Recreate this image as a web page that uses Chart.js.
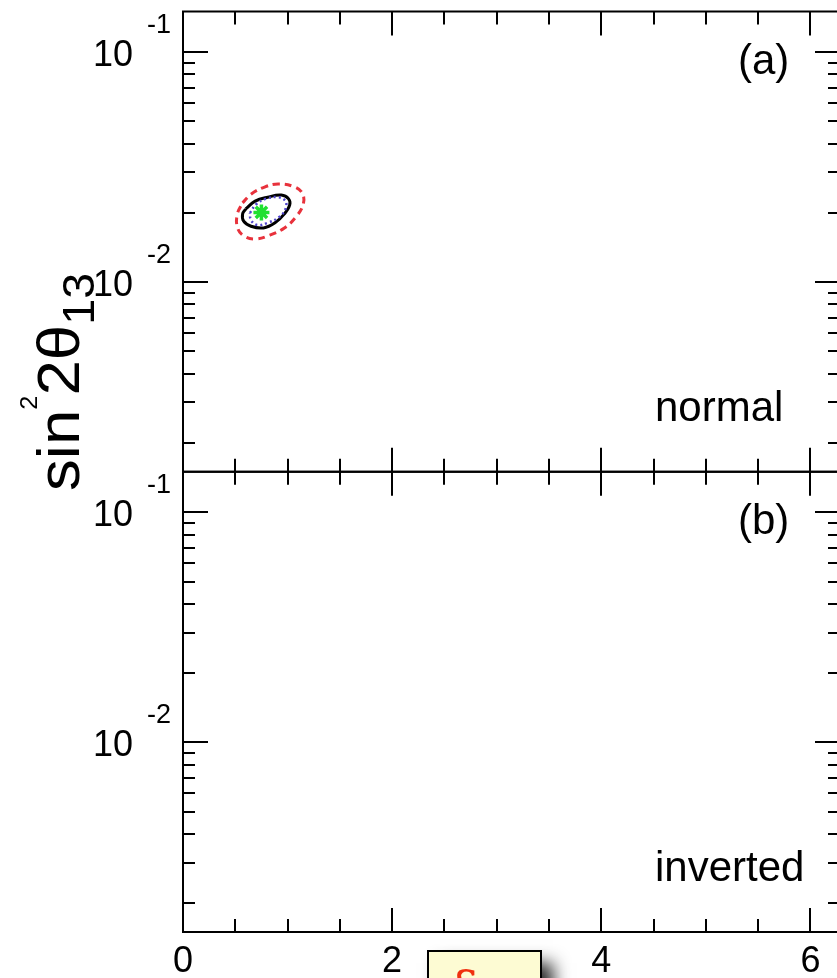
<!DOCTYPE html>
<html>
<head>
<meta charset="utf-8">
<script src="https://cdn.jsdelivr.net/npm/chart.js@4.4.0/dist/chart.umd.min.js"></script>
<style>
html, body { margin: 0; padding: 0; background: #fff; overflow: hidden; }
#wrap { position: relative; width: 837px; height: 978px; overflow: hidden; background: #fff; }
#c { position: absolute; left: 0; top: 0; }
</style>
</head>
<body>
<div id="wrap"><canvas id="c" width="860" height="1010"></canvas></div>
<script>
// CP phase δ (radians)
const deltaRange = [0, 2 * Math.PI];
const deltaMajorTicks = [0, 2, 4, 6];
const deltaTickLabels = ['0', '2', '4', '6'];
const deltaMinorStep = 0.5;

// sin²2θ13 (logarithmic)
const s2tRange = [0.0015, 0.15];
const s2tDecades = [0.01, 0.1];
const s2tDecadeExponents = ['-2', '-1'];

// panels: hierarchy
const panelIds = ['yA', 'yB'];
const panelTags = ['(a)', '(b)'];
const panelNames = ['normal', 'inverted'];

// best-fit point, normal hierarchy
const bestDelta = [0.75];
const bestS2t = [0.0201];

// allowed regions around the best fit, normal hierarchy
const innerDelta = [0.64, 0.70, 0.79, 0.91, 0.98, 0.98, 0.92, 0.81, 0.71, 0.65, 0.64];
const innerS2t   = [0.0200, 0.0218, 0.0230, 0.0234, 0.0225, 0.0208, 0.0192, 0.0181, 0.0177, 0.0186, 0.0200];

const midDelta = [0.60, 0.69, 0.81, 0.94, 1.01, 1.02, 0.97, 0.88, 0.77, 0.65, 0.58, 0.57, 0.60];
const midS2t   = [0.0208, 0.0225, 0.0234, 0.0239, 0.0230, 0.0216, 0.0198, 0.0181, 0.0172, 0.0175, 0.0184, 0.0198, 0.0208];

const outerDelta = [0.57, 0.65, 0.78, 0.91, 1.05, 1.14, 1.15, 1.08, 0.97, 0.83, 0.69, 0.58, 0.52, 0.52, 0.57];
const outerS2t   = [0.0221, 0.0241, 0.0259, 0.0267, 0.0261, 0.0244, 0.0218, 0.0192, 0.0172, 0.0160, 0.0154, 0.0159, 0.0173, 0.0198, 0.0221];

const pts = (xs, ys) => xs.map((x, i) => ({ x: x, y: ys[i] }));

const FONT = '"Liberation Sans", Arial, Helvetica, sans-serif';

// Frame, inward ticks, tick labels and annotations for both panels
const framePlugin = {
  id: 'panelFrame',
  afterDraw(chart) {
    const ctx = chart.ctx;
    const xs = chart.scales.x;
    const L = xs.getPixelForValue(deltaRange[0]);
    const R = xs.getPixelForValue(deltaRange[1]);
    ctx.save();
    ctx.strokeStyle = '#000';
    ctx.fillStyle = '#000';
    ctx.lineCap = 'butt';

    panelIds.forEach((id, pi) => {
      const ys = chart.scales[id];
      const T = ys.getPixelForValue(s2tRange[1]);
      const B = ys.getPixelForValue(s2tRange[0]);

      ctx.lineWidth = 2;
      ctx.strokeRect(L, T, R - L, B - T);

      ctx.beginPath();
      // δ ticks on top and bottom edges
      for (let k = 1; k * deltaMinorStep < deltaRange[1]; k++) {
        const v = k * deltaMinorStep;
        const px = Math.round(xs.getPixelForValue(v));
        const major = deltaMajorTicks.includes(v);
        const len = major ? 24 : 13;
        ctx.moveTo(px, T); ctx.lineTo(px, T + len);
        ctx.moveTo(px, B); ctx.lineTo(px, B - len);
      }
      // log ticks on left and right edges
      for (let e = -3; e <= -1; e++) {
        for (let m = 1; m <= 9; m++) {
          const v = m * Math.pow(10, e);
          if (v <= s2tRange[0] || v >= s2tRange[1]) continue;
          const py = Math.round(ys.getPixelForValue(v));
          const len = m === 1 ? 25 : 12;
          ctx.moveTo(L, py); ctx.lineTo(L + len, py);
          ctx.moveTo(R, py); ctx.lineTo(R - len, py);
        }
      }
      ctx.stroke();

      // decade labels 10^n
      s2tDecades.forEach((v, i) => {
        const py = ys.getPixelForValue(v);
        ctx.font = '36px ' + FONT;
        ctx.textAlign = 'right';
        ctx.textBaseline = 'alphabetic';
        ctx.fillText('10', L - 50, py + 14);
        ctx.font = '27px ' + FONT;
        ctx.textAlign = 'left';
        ctx.fillText(s2tDecadeExponents[i], L - 36, py - 19);
      });

      // panel tag and hierarchy name
      ctx.font = '42px ' + FONT;
      ctx.textAlign = 'left';
      ctx.fillText(panelTags[pi], 738, T + 62);
      ctx.fillText(panelNames[pi], 655, B - 51);

      // δ tick labels under the lower panel
      if (pi === panelIds.length - 1) {
        ctx.font = '36px ' + FONT;
        ctx.textAlign = 'center';
        deltaMajorTicks.forEach((v, i) => {
          ctx.fillText(deltaTickLabels[i], xs.getPixelForValue(v), B + 40);
        });
      }
    });

    // vertical axis title: sin²2θ13
    ctx.save();
    ctx.translate(79, 491);
    ctx.rotate(-Math.PI / 2);
    ctx.scale(1.06, 1);
    ctx.textAlign = 'left';
    ctx.textBaseline = 'alphabetic';
    let cx = 0;
    const part = (txt, size, dy) => {
      ctx.font = size + 'px ' + FONT;
      ctx.fillText(txt, cx, dy);
      cx += ctx.measureText(txt).width;
    };
    part('sin', 60, 0);
    part('2', 24, -42);
    part('2θ', 60, 0);
    part('13', 44, 15);
    ctx.restore();

    // δ label box with drop shadow
    const bx = 428, by = 951, bw = 113, bh = 70;
    ctx.save();
    ctx.shadowColor = 'rgba(0,0,0,0.85)';
    ctx.shadowBlur = 16;
    ctx.shadowOffsetX = 12;
    ctx.shadowOffsetY = 12;
    ctx.fillStyle = '#fdfbd3';
    ctx.fillRect(bx, by, bw, bh);
    ctx.restore();
    ctx.lineWidth = 2;
    ctx.strokeStyle = '#000';
    ctx.strokeRect(bx, by, bw, bh);
    ctx.fillStyle = '#f03010';
    ctx.font = '46px "DejaVu Serif", "Liberation Serif", serif';
    ctx.textAlign = 'left';
    ctx.fillText('δ', 452, 1005);

    ctx.restore();
  }
};

new Chart(document.getElementById('c').getContext('2d'), {
  type: 'scatter',
  data: {
    datasets: [
      {
        data: pts(bestDelta, bestS2t), yAxisID: 'yA',
        pointStyle: 'star', pointRadius: 8, borderColor: '#20e030', borderWidth: 3.5,
        backgroundColor: '#20e030'
      },
      {
        data: pts(innerDelta, innerS2t), yAxisID: 'yA', showLine: true, pointRadius: 0,
        borderColor: '#4f44cc', borderWidth: 2.5, borderDash: [2, 3], tension: 0.4
      },
      {
        data: pts(midDelta, midS2t), yAxisID: 'yA', showLine: true, pointRadius: 0,
        borderColor: '#000', borderWidth: 3, tension: 0.4
      },
      {
        data: pts(outerDelta, outerS2t), yAxisID: 'yA', showLine: true, pointRadius: 0,
        borderColor: '#e8323c', borderWidth: 3, borderDash: [7, 5], tension: 0.4
      }
    ]
  },
  options: {
    responsive: false,
    animation: false,
    devicePixelRatio: 1,
    layout: { padding: { left: 183, top: 10, right: 20, bottom: 78 } },
    plugins: { legend: { display: false }, tooltip: { enabled: false } },
    scales: {
      x: { type: 'linear', min: deltaRange[0], max: deltaRange[1], display: false },
      yB: { type: 'logarithmic', min: s2tRange[0], max: s2tRange[1], display: false,
            position: 'left', stack: 'panels', stackWeight: 1 },
      yA: { type: 'logarithmic', min: s2tRange[0], max: s2tRange[1], display: false,
            position: 'left', stack: 'panels', stackWeight: 1 }
    }
  },
  plugins: [framePlugin]
});
</script>
</body>
</html>
